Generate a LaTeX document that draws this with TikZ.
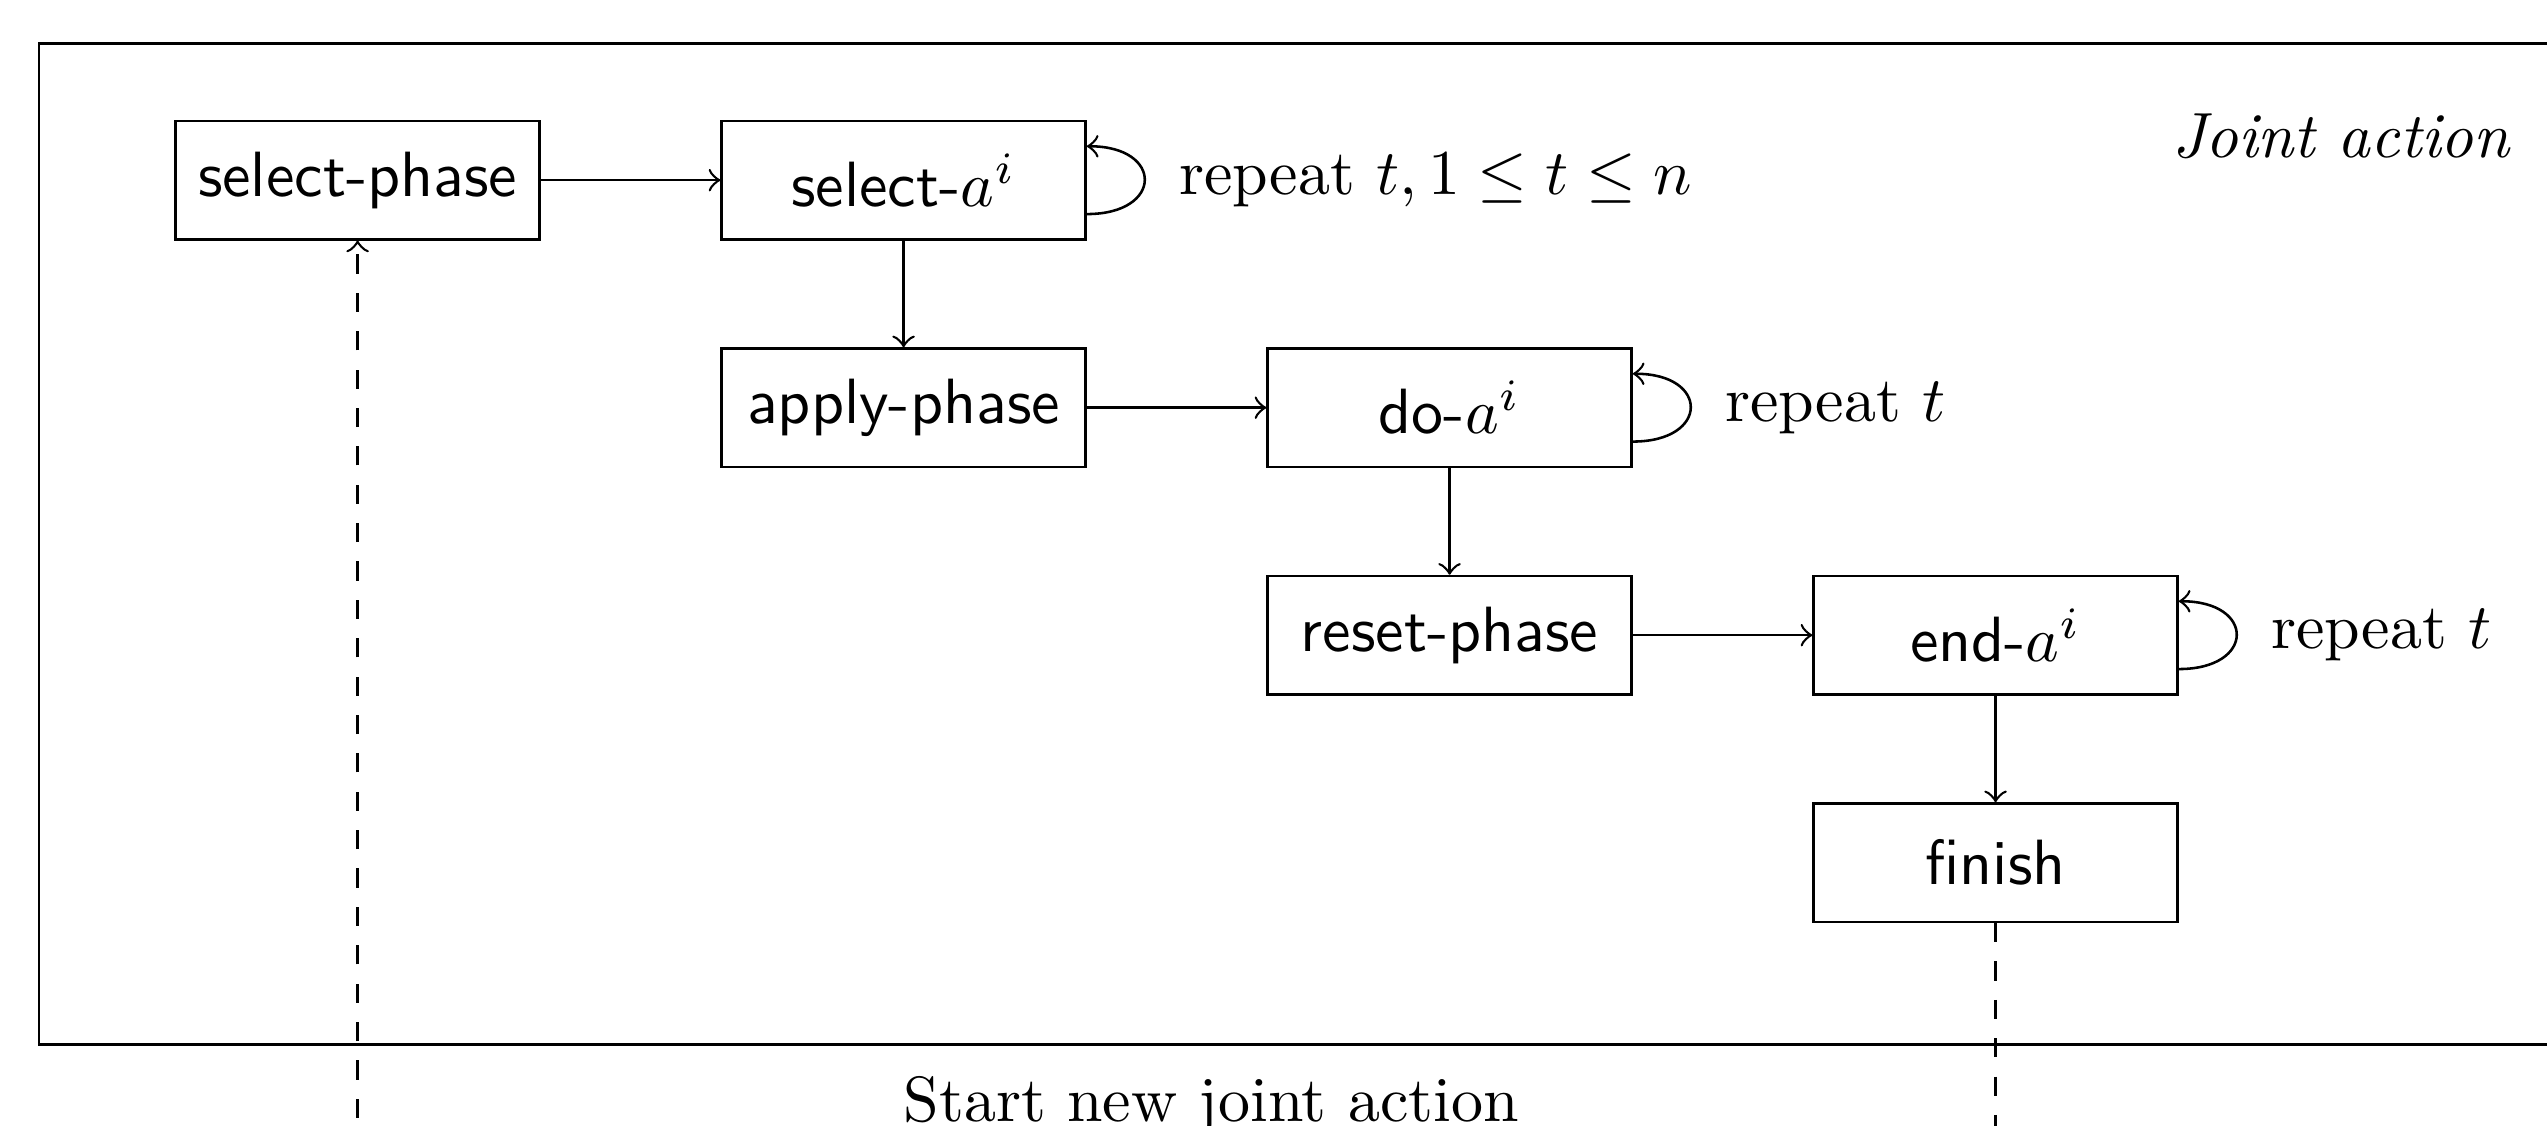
\documentclass[tikz,border=0pt]{standalone}
\usetikzlibrary{positioning}
\begin{document}
\begin{tikzpicture}[
  box/.style={draw, rectangle, minimum width=2cm, minimum height=0.65cm, font=\sffamily, inner sep=2pt},
  conn/.style={->},
  selfloop/.style={->, out=0, in=0, distance=12pt},
  looplabel/.style={anchor=west, inner sep=0pt},
  dashconn/.style={dashed, ->},
]
\useasboundingbox (-1.965,-5.197) rectangle (12.03,0.99);
\clip (-1.965,-5.197) rectangle (12.03,0.99);

% outer frame
\draw (-1.75,0.75) rectangle (12.6,-4.75);
\node[anchor=base east, inner sep=0pt] (title) at (11.84,0.125) {\textit{Joint action}};

% boxes
\node[box] (sp) at (0,0) {select-phase};
\node[box] (sa) at (3,0) {select-$a^i$};
\node[box] (ap) at (3,-1.25) {apply-phase};
\node[box] (da) at (6,-1.25) {do-$a^i$};
\node[box] (rp) at (6,-2.5) {reset-phase};
\node[box] (ea) at (9,-2.5) {end-$a^i$};
\node[box] (fin) at (9,-3.75) {finish};

% connectors
\draw[conn] (sp) -- (sa);
\draw[conn] (sa) -- (ap);
\draw[conn] (ap) -- (da);
\draw[conn] (da) -- (rp);
\draw[conn] (rp) -- (ea);
\draw[conn] (ea) -- (fin);

% self loops
\draw[selfloop] ([yshift=-5.3pt]sa.east) to ([yshift=5.3pt]sa.east);
\draw[selfloop] ([yshift=-5.3pt]da.east) to ([yshift=5.3pt]da.east);
\draw[selfloop] ([yshift=-5.3pt]ea.east) to ([yshift=5.3pt]ea.east);
\node[looplabel] (l1) at ([xshift=0.5cm]sa.east) {repeat $t, 1 \leq t \leq n$};
\node[looplabel] (l2) at ([xshift=0.5cm]da.east) {repeat $t$};
\node[looplabel] (l3) at ([xshift=0.5cm]ea.east) {repeat $t$};

% return path
\coordinate (turn) at (4.5,-5.6);
\draw[dashconn] (fin.south) |- (turn) -| (sp.south);
\node[anchor=base, inner sep=0pt] (restart) at (4.69,-5.173) {Start new joint action};
\end{tikzpicture}
\end{document}
